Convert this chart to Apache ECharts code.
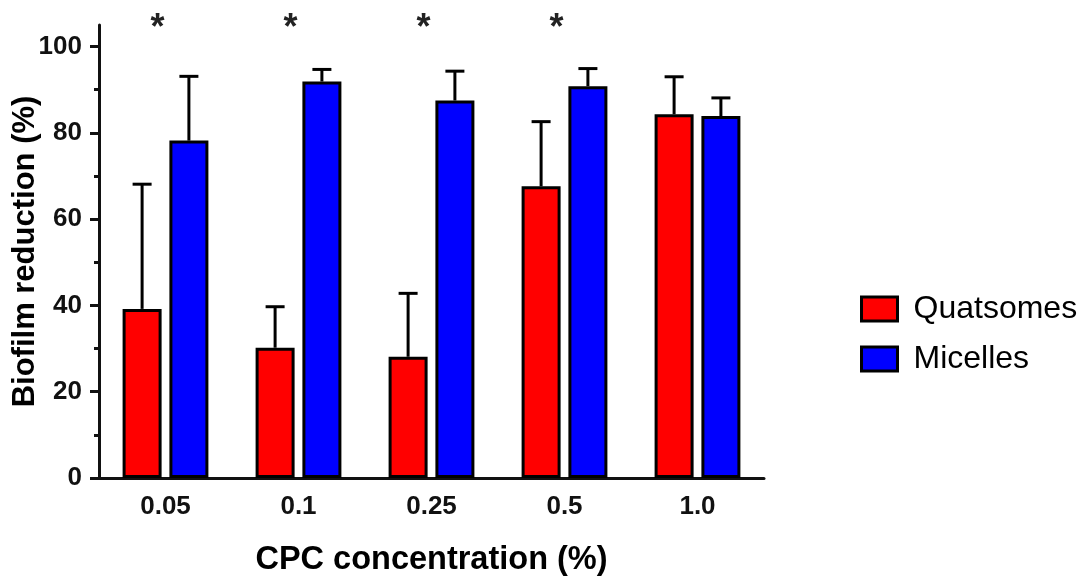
<!DOCTYPE html>
<html>
<head>
<meta charset="utf-8">
<script src="https://cdn.jsdelivr.net/npm/echarts@6/dist/echarts.min.js"></script>
<style>
    html, body { margin: 0; padding: 0; background: #fff; }
    #biofilmChart { width: 1081px; height: 581px; }
</style>
</head>
<body>
<div id="biofilmChart"></div>
<script>
const categories = ['0.05', '0.1', '0.25', '0.5', '1.0'];
const quatsomes = [39.2, 30.2, 28.1, 67.6, 84.3];
const quatsomesErr = [28.9, 9.5, 14.7, 15.0, 8.7];
const micelles = [78.2, 91.9, 87.5, 90.8, 83.9];
const micellesErr = [14.9, 2.8, 6.8, 4.1, 4.2];
const starCategories = ['0.05', '0.1', '0.25', '0.5'];
const yTicks = [0, 20, 40, 60, 80, 100];
const yMinorTicks = [10, 30, 50, 70, 90];

const colorPallet = ['#ff0000', '#0000ff'];
const barWidth = 39;
const barGap = 0.2;
const font = '"Liberation Sans", Arial, sans-serif';

// upward error bar on top of a grouped bar
function errorBar(values, errors, side) {
    return function (params, api) {
        const i = params.dataIndex;
        const shift = side * barWidth * (1 + barGap) / 2;
        const base = api.coord([i, values[i]]);
        const top = api.coord([i, values[i] + errors[i]]);
        const x = base[0] + shift;
        return {
            type: 'group',
            children: [
                { type: 'line', shape: { x1: x, y1: base[1], x2: x, y2: top[1] }, style: { stroke: '#000', lineWidth: 3 } },
                { type: 'line', shape: { x1: x - 9.5, y1: top[1], x2: x + 9.5, y2: top[1] }, style: { stroke: '#000', lineWidth: 3 } }
            ]
        };
    };
}

const chart = echarts.init(document.getElementById('biofilmChart'));
chart.setOption({
    animation: false,
    color: colorPallet,
    textStyle: { fontFamily: font },
    grid: { left: 99, right: 317, top: 25, bottom: 103, outerBoundsMode: 'none', containLabel: false },
    legend: {
        left: 855,
        top: 288,
        orient: 'vertical',
        itemWidth: 36,
        itemHeight: 24,
        itemGap: 18,
        icon: 'rect',
        textStyle: { fontSize: 32, color: '#000', fontFamily: font, padding: [0, 0, 0, 11] },
        itemStyle: { borderColor: '#000', borderWidth: 3 },
        data: ['Quatsomes', 'Micelles']
    },
    xAxis: {
        type: 'category',
        data: categories,
        name: 'CPC concentration (%)',
        nameLocation: 'middle',
        nameGap: 66,
        nameMoveOverlap: false,
        nameTextStyle: { fontSize: 32.5, fontWeight: 'bold', color: '#000' },
        axisLine: { lineStyle: { color: '#111', width: 3 } },
        axisTick: { alignWithLabel: true, length: 8, lineStyle: { color: '#111', width: 3 } },
        axisLabel: { fontSize: 26, fontWeight: 'bold', color: '#111', margin: 16 }
    },
    yAxis: [{
        type: 'value',
        min: 0,
        max: 105,
        name: 'Biofilm reduction (%)',
        nameLocation: 'middle',
        nameGap: 58,
        nameMoveOverlap: false,
        nameTextStyle: { fontSize: 31, fontWeight: 'bold', color: '#000' },
        splitLine: { show: false },
        axisLine: { show: true, lineStyle: { color: '#111', width: 3 } },
        axisTick: { show: true, length: 9, customValues: yTicks, lineStyle: { color: '#111', width: 3 } },
        axisLabel: { fontSize: 26, fontWeight: 'bold', color: '#111', margin: 17, customValues: yTicks }
    }, {
        // minor ticks only
        type: 'value',
        position: 'left',
        min: 0,
        max: 105,
        splitLine: { show: false },
        axisLine: { show: false },
        axisLabel: { show: false },
        axisTick: { show: true, length: 5, customValues: yMinorTicks, lineStyle: { color: '#111', width: 3 } }
    }],
    series: [{
        name: 'Quatsomes',
        type: 'bar',
        data: quatsomes,
        barWidth: barWidth,
        barGap: (barGap * 100) + '%',
        itemStyle: { color: colorPallet[0], borderColor: '#000', borderWidth: 3 }
    }, {
        name: 'Micelles',
        type: 'bar',
        data: micelles,
        barWidth: barWidth,
        barGap: (barGap * 100) + '%',
        itemStyle: { color: colorPallet[1], borderColor: '#000', borderWidth: 3 }
    }, {
        type: 'custom',
        data: quatsomes,
        renderItem: errorBar(quatsomes, quatsomesErr, -1),
        z: 1
    }, {
        type: 'custom',
        data: micelles,
        renderItem: errorBar(micelles, micellesErr, 1),
        z: 1
    }, {
        type: 'custom',
        data: starCategories.map(c => [c, 104]),
        renderItem: function (params, api) {
            const p = api.coord([api.value(0), api.value(1)]);
            return {
                type: 'text',
                x: p[0] - 8,
                y: p[1],
                style: { text: '*', fontSize: 36, fontWeight: 'bold', fill: '#222', align: 'center', verticalAlign: 'middle', fontFamily: font }
            };
        }
    }]
});
</script>
</body>
</html>
